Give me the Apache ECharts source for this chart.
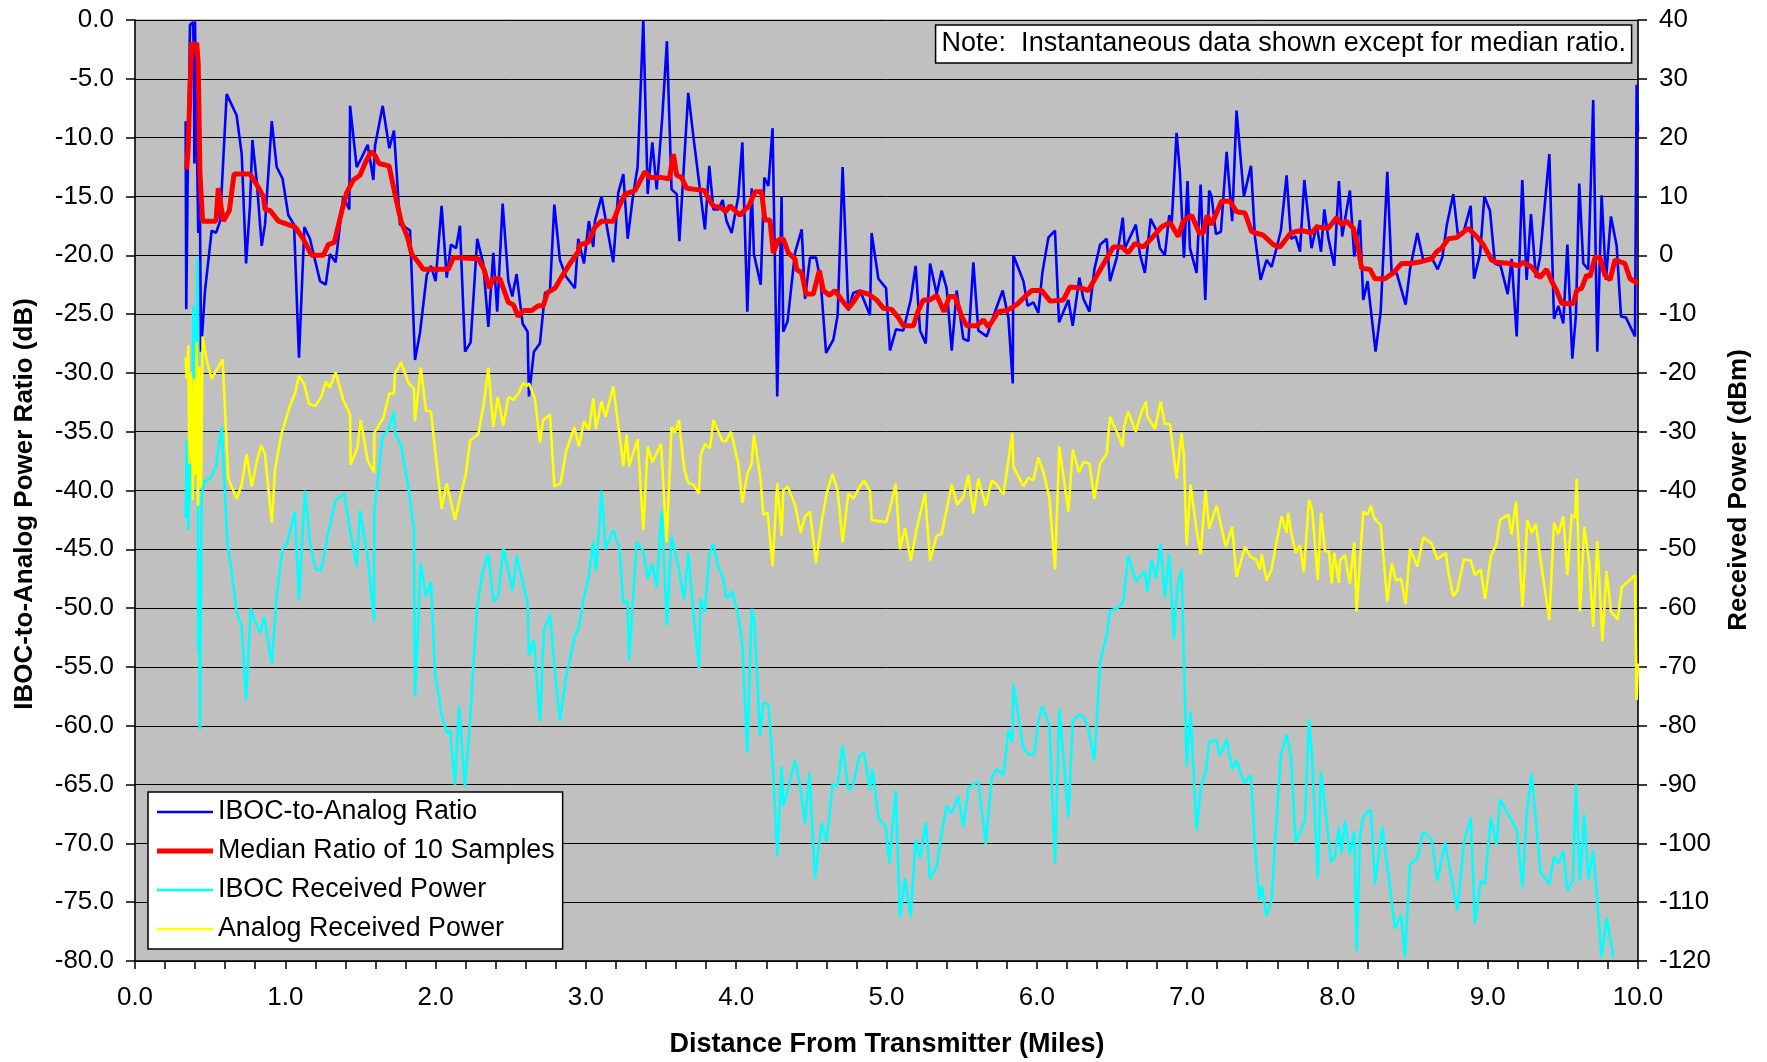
<!DOCTYPE html>
<html>
<head>
<meta charset="utf-8">
<script src="https://cdn.jsdelivr.net/npm/echarts@6/dist/echarts.min.js"></script>
<style>
  html, body { margin: 0; padding: 0; background: #ffffff; }
  #chart { width: 1767px; height: 1062px; }
</style>
</head>
<body>
<div id="chart"></div>
<script>
// Drive-test record: distance from transmitter (miles) vs. measured levels.

// IBOC-to-analog power ratio, instantaneous samples [miles, dB]
const ratioSamples = [
  [0.337,-8.6],[0.341,-24.6],[0.350,-14.0],[0.366,-0.4],[0.377,-0.3],[0.386,-0.2],[0.392,-3.0],[0.395,-12.2],[0.399,-0.1],[0.410,0.0],
  [0.421,-18.1],[0.426,-5.0],[0.439,-28.2],[0.466,-23.0],[0.510,-17.9],[0.539,-18.1],[0.566,-17.1],[0.610,-6.3],[0.676,-8.1],[0.710,-11.4],
  [0.739,-20.7],[0.765,-15.8],[0.781,-10.2],[0.810,-13.7],[0.843,-19.2],[0.865,-17.4],[0.910,-8.6],[0.943,-12.5],[0.982,-13.5],[1.020,-16.6],
  [1.058,-17.4],[1.091,-28.7],[1.127,-17.6],[1.164,-18.6],[1.231,-22.2],[1.269,-22.5],[1.297,-19.9],[1.335,-20.6],[1.386,-15.0],[1.426,-16.1],
  [1.431,-7.3],[1.475,-12.5],[1.508,-11.7],[1.548,-10.6],[1.586,-13.6],[1.597,-10.7],[1.648,-7.3],[1.692,-10.9],[1.723,-9.4],[1.763,-17.4],
  [1.797,-17.6],[1.830,-17.9],[1.863,-28.9],[1.896,-26.6],[1.941,-21.7],[1.969,-20.9],[2.000,-22.2],[2.040,-15.8],[2.074,-21.9],[2.102,-19.1],
  [2.136,-19.4],[2.162,-17.5],[2.196,-28.2],[2.233,-27.4],[2.277,-18.6],[2.317,-20.7],[2.351,-26.1],[2.384,-19.8],[2.410,-24.8],[2.446,-15.6],
  [2.484,-22.2],[2.510,-23.5],[2.539,-21.6],[2.579,-25.8],[2.612,-26.5],[2.621,-32.0],[2.654,-28.2],[2.694,-27.5],[2.728,-23.2],[2.761,-23.0],
  [2.790,-15.7],[2.827,-20.4],[2.867,-21.8],[2.927,-22.8],[2.949,-18.6],[2.987,-20.7],[3.020,-17.1],[3.049,-19.3],[3.060,-17.1],[3.104,-15.0],
  [3.182,-20.6],[3.215,-14.7],[3.249,-13.1],[3.278,-18.6],[3.315,-14.8],[3.344,-12.5],[3.382,0.0],[3.411,-14.8],[3.442,-10.4],[3.471,-14.4],
  [3.508,-8.3],[3.539,-1.8],[3.570,-14.4],[3.604,-14.8],[3.622,-18.8],[3.681,-6.2],[3.715,-9.9],[3.752,-13.7],[3.792,-17.8],[3.821,-12.4],
  [3.848,-16.1],[3.881,-16.1],[3.910,-15.3],[3.936,-17.1],[3.970,-18.1],[4.014,-15.0],[4.041,-10.4],[4.074,-24.8],[4.103,-14.3],[4.118,-19.9],
  [4.163,-22.5],[4.187,-13.4],[4.214,-14.1],[4.242,-9.2],[4.273,-32.0],[4.302,-15.0],[4.313,-26.5],[4.342,-25.6],[4.391,-19.8],[4.436,-17.8],
  [4.458,-23.7],[4.491,-20.2],[4.531,-20.2],[4.562,-22.2],[4.598,-28.3],[4.646,-27.2],[4.675,-25.1],[4.708,-12.5],[4.746,-24.7],[4.779,-23.2],
  [4.824,-23.0],[4.890,-25.1],[4.901,-18.1],[4.946,-22.0],[4.997,-22.8],[5.023,-28.1],[5.063,-26.3],[5.112,-26.4],[5.161,-23.8],[5.194,-20.9],
  [5.223,-26.4],[5.261,-27.5],[5.290,-20.7],[5.334,-23.3],[5.367,-21.3],[5.400,-22.8],[5.434,-28.1],[5.467,-23.0],[5.511,-27.1],[5.545,-27.3],
  [5.578,-20.6],[5.611,-26.4],[5.667,-26.9],[5.722,-24.8],[5.773,-23.0],[5.811,-25.3],[5.840,-30.9],[5.844,-20.0],[5.911,-22.2],[5.939,-24.3],
  [5.977,-24.0],[6.010,-24.9],[6.037,-21.5],[6.077,-18.5],[6.121,-17.9],[6.148,-25.7],[6.210,-23.8],[6.239,-26.0],[6.283,-21.9],[6.310,-23.7],
  [6.350,-24.8],[6.383,-21.2],[6.421,-19.1],[6.465,-18.6],[6.487,-22.2],[6.532,-20.2],[6.572,-16.8],[6.586,-19.4],[6.659,-17.4],[6.686,-19.9],
  [6.719,-21.5],[6.757,-16.9],[6.797,-17.9],[6.819,-19.4],[6.852,-20.0],[6.881,-16.6],[6.897,-17.4],[6.930,-9.6],[6.952,-12.9],[6.979,-20.2],
  [7.003,-13.7],[7.019,-19.4],[7.063,-21.5],[7.090,-14.0],[7.121,-23.8],[7.147,-14.5],[7.163,-15.0],[7.192,-18.2],[7.225,-18.0],[7.263,-11.2],
  [7.300,-17.1],[7.329,-7.7],[7.378,-15.0],[7.425,-12.4],[7.451,-18.4],[7.489,-22.1],[7.529,-20.4],[7.562,-21.0],[7.595,-19.4],[7.624,-17.9],
  [7.662,-13.2],[7.691,-18.6],[7.722,-18.4],[7.751,-19.7],[7.780,-13.6],[7.828,-19.4],[7.862,-17.4],[7.891,-19.7],[7.913,-16.1],[7.939,-18.5],
  [7.979,-20.9],[8.010,-13.7],[8.032,-18.4],[8.083,-14.5],[8.112,-20.1],[8.150,-17.0],[8.172,-23.8],[8.201,-22.2],[8.254,-28.2],[8.288,-24.8],
  [8.332,-12.9],[8.361,-21.6],[8.394,-21.5],[8.454,-24.2],[8.483,-21.2],[8.532,-18.1],[8.571,-20.4],[8.627,-20.2],[8.667,-21.2],[8.698,-20.2],
  [8.727,-17.5],[8.771,-14.8],[8.804,-18.5],[8.842,-17.9],[8.887,-15.8],[8.909,-22.0],[8.949,-19.9],[8.978,-15.0],[9.015,-16.2],[9.048,-20.7],
  [9.086,-20.9],[9.133,-23.3],[9.159,-20.3],[9.193,-26.9],[9.230,-13.6],[9.259,-22.1],[9.288,-16.5],[9.321,-21.9],[9.348,-20.2],[9.410,-11.4],
  [9.441,-25.4],[9.470,-24.3],[9.503,-25.8],[9.530,-19.1],[9.563,-28.8],[9.587,-25.1],[9.609,-13.9],[9.636,-20.7],[9.669,-21.2],[9.702,-6.8],
  [9.729,-28.2],[9.758,-14.9],[9.787,-22.1],[9.820,-16.7],[9.858,-19.2],[9.887,-25.2],[9.920,-25.3],[9.980,-26.9],[9.991,-5.5],[10.0,-9.5]
];

// Running median of 10 ratio samples [miles, dB]
const medianRatio = [
  [0.343,-12.7],[0.354,-10.9],[0.366,-5.8],[0.377,-1.9],[0.399,-2.7],[0.410,-1.9],[0.421,-3.7],[0.432,-13.0],[0.450,-17.1],[0.539,-17.1],
  [0.554,-14.3],[0.566,-14.3],[0.588,-17.1],[0.628,-16.2],[0.659,-13.1],[0.765,-13.1],[0.810,-14.0],[0.854,-15.0],[0.865,-16.1],[0.899,-16.2],
  [0.954,-17.1],[1.020,-17.4],[1.065,-17.6],[1.120,-18.6],[1.175,-20.0],[1.253,-20.0],[1.286,-19.1],[1.326,-18.9],[1.375,-16.3],[1.408,-14.7],
  [1.453,-13.6],[1.497,-13.2],[1.530,-12.2],[1.570,-11.2],[1.597,-11.5],[1.623,-12.2],[1.690,-12.4],[1.730,-14.8],[1.770,-17.1],[1.814,-18.5],
  [1.841,-19.9],[1.885,-20.6],[1.918,-21.2],[2.085,-21.2],[2.118,-20.2],[2.284,-20.3],[2.322,-21.2],[2.357,-22.8],[2.384,-22.0],[2.428,-22.0],
  [2.484,-24.0],[2.517,-24.2],[2.550,-25.2],[2.583,-24.7],[2.639,-24.7],[2.683,-24.3],[2.717,-24.3],[2.743,-23.2],[2.794,-22.8],[2.850,-21.6],
  [2.894,-20.7],[2.949,-19.7],[2.960,-19.1],[3.016,-18.9],[3.060,-17.6],[3.104,-17.1],[3.182,-17.1],[3.222,-15.8],[3.260,-14.8],[3.327,-14.5],
  [3.360,-13.7],[3.393,-12.9],[3.426,-13.4],[3.504,-13.4],[3.555,-13.5],[3.582,-11.4],[3.604,-13.2],[3.637,-13.4],[3.670,-14.3],[3.726,-14.4],
  [3.788,-14.5],[3.826,-15.4],[3.848,-15.8],[3.903,-16.0],[3.930,-16.3],[3.959,-15.8],[3.992,-16.2],[4.025,-16.6],[4.054,-16.2],[4.085,-15.8],
  [4.125,-14.6],[4.169,-14.6],[4.191,-17.0],[4.225,-17.0],[4.247,-19.8],[4.280,-18.7],[4.313,-18.6],[4.347,-19.8],[4.391,-20.3],[4.402,-21.2],
  [4.436,-21.5],[4.464,-23.3],[4.513,-23.3],[4.553,-21.3],[4.580,-23.0],[4.620,-23.4],[4.657,-23.0],[4.702,-23.8],[4.746,-24.5],[4.784,-23.9],
  [4.824,-23.1],[4.879,-23.3],[4.935,-23.8],[4.979,-24.5],[5.034,-24.6],[5.079,-25.3],[5.112,-26.0],[5.179,-26.0],[5.212,-24.7],[5.245,-23.8],
  [5.290,-23.8],[5.334,-23.4],[5.383,-24.8],[5.418,-23.5],[5.456,-23.5],[5.500,-25.2],[5.534,-26.0],[5.600,-26.0],[5.645,-25.5],[5.678,-26.1],
  [5.744,-24.8],[5.800,-24.7],[5.866,-24.2],[5.922,-23.5],[5.966,-23.0],[6.033,-23.0],[6.088,-23.9],[6.177,-23.8],[6.221,-22.7],[6.299,-22.8],
  [6.343,-23.0],[6.432,-21.0],[6.509,-19.3],[6.565,-19.3],[6.608,-19.8],[6.653,-19.0],[6.708,-19.3],[6.775,-18.4],[6.830,-17.6],[6.886,-17.2],
  [6.941,-18.4],[6.974,-17.1],[7.030,-16.6],[7.081,-18.1],[7.108,-18.1],[7.134,-16.6],[7.163,-17.4],[7.229,-15.4],[7.285,-15.4],[7.329,-16.3],
  [7.385,-16.4],[7.429,-18.0],[7.507,-18.3],[7.573,-19.1],[7.618,-19.3],[7.684,-18.2],[7.718,-18.0],[7.762,-17.9],[7.828,-18.1],[7.862,-17.6],
  [7.939,-17.7],[7.995,-16.8],[8.028,-17.4],[8.061,-17.1],[8.106,-17.7],[8.139,-19.4],[8.161,-21.1],[8.217,-21.2],[8.250,-22.0],[8.316,-22.0],
  [8.372,-21.5],[8.427,-20.7],[8.483,-20.7],[8.538,-20.6],[8.627,-20.3],[8.660,-19.7],[8.693,-19.4],[8.738,-18.6],[8.793,-18.5],[8.871,-17.7],
  [8.926,-18.4],[8.971,-19.1],[9.026,-20.4],[9.059,-20.6],[9.148,-20.7],[9.204,-20.9],[9.237,-20.6],[9.292,-21.0],[9.348,-21.9],[9.392,-21.2],
  [9.425,-22.2],[9.459,-23.0],[9.492,-24.1],[9.570,-24.1],[9.592,-23.0],[9.625,-22.8],[9.658,-21.7],[9.681,-21.8],[9.714,-20.2],[9.747,-20.2],
  [9.780,-21.7],[9.814,-22.1],[9.847,-20.4],[9.913,-20.7],[9.947,-22.0],[10.0,-22.4]
];

// IBOC received power [miles, dBm]
const ibocPower = [
  [0.337,-44.7],[0.344,-31.3],[0.355,-46.7],[0.366,-26.1],[0.377,-41.6],[0.388,-8.6],[0.399,-31.3],[0.406,-16.8],[0.415,-0.4],[0.421,-67.3],
  [0.426,-51.9],[0.432,-80.7],[0.443,-41.6],[0.459,-38.5],[0.499,-38.0],[0.539,-35.9],[0.577,-29.2],[0.614,-48.8],[0.643,-53.9],[0.676,-60.6],
  [0.710,-63.2],[0.739,-75.6],[0.770,-60.1],[0.799,-62.2],[0.832,-64.2],[0.859,-61.6],[0.910,-69.4],[0.943,-58.0],[0.982,-49.8],[1.009,-49.3],
  [1.064,-43.6],[1.091,-58.6],[1.131,-40.0],[1.164,-48.8],[1.202,-53.4],[1.238,-53.6],[1.286,-47.2],[1.335,-41.6],[1.393,-40.5],[1.431,-46.9],
  [1.475,-52.9],[1.497,-43.4],[1.548,-51.3],[1.590,-62.2],[1.592,-43.6],[1.619,-37.4],[1.646,-30.8],[1.686,-29.7],[1.723,-26.6],[1.730,-30.2],
  [1.770,-32.3],[1.819,-39.5],[1.856,-46.7],[1.863,-75.0],[1.901,-52.4],[1.936,-58.0],[1.969,-55.5],[1.996,-70.9],[2.040,-78.1],[2.074,-81.2],
  [2.096,-80.7],[2.129,-90.0],[2.156,-76.6],[2.195,-90.5],[2.229,-79.2],[2.255,-68.3],[2.277,-59.6],[2.317,-53.4],[2.351,-50.8],[2.384,-58.9],
  [2.417,-58.0],[2.450,-49.8],[2.484,-53.7],[2.512,-57.0],[2.539,-51.1],[2.579,-55.5],[2.612,-59.1],[2.621,-68.1],[2.654,-65.4],[2.694,-79.2],
  [2.721,-63.7],[2.761,-61.1],[2.794,-70.9],[2.827,-79.2],[2.867,-71.9],[2.927,-64.7],[2.954,-63.2],[2.987,-58.3],[3.020,-54.4],[3.049,-48.6],
  [3.067,-53.7],[3.104,-40.0],[3.131,-50.0],[3.182,-46.7],[3.222,-49.8],[3.249,-59.1],[3.278,-58.9],[3.287,-68.9],[3.338,-48.8],[3.382,-50.3],
  [3.411,-55.0],[3.442,-52.4],[3.471,-56.5],[3.504,-43.4],[3.539,-63.0],[3.570,-47.7],[3.615,-52.9],[3.653,-58.6],[3.681,-50.6],[3.715,-60.6],
  [3.752,-70.2],[3.763,-58.4],[3.792,-60.6],[3.821,-50.8],[3.848,-49.1],[3.881,-52.9],[3.914,-55.0],[3.936,-58.3],[3.974,-57.2],[4.014,-61.4],
  [4.041,-66.3],[4.074,-84.6],[4.103,-60.1],[4.121,-62.2],[4.158,-81.7],[4.180,-76.1],[4.214,-76.3],[4.242,-85.9],[4.273,-102.1],[4.302,-86.9],
  [4.313,-93.6],[4.347,-90.5],[4.391,-85.9],[4.425,-90.2],[4.458,-96.7],[4.487,-87.9],[4.524,-106.0],[4.569,-96.5],[4.602,-99.8],[4.640,-90.0],
  [4.675,-90.2],[4.708,-83.3],[4.746,-91.0],[4.779,-90.0],[4.817,-85.3],[4.850,-84.6],[4.890,-90.8],[4.906,-87.4],[4.946,-95.6],[4.994,-97.2],
  [5.019,-103.4],[5.061,-91.0],[5.090,-112.6],[5.123,-105.9],[5.161,-112.4],[5.194,-99.4],[5.223,-102.5],[5.261,-96.4],[5.290,-106.0],[5.334,-103.9],
  [5.367,-98.3],[5.400,-93.6],[5.434,-94.9],[5.478,-92.0],[5.511,-97.2],[5.545,-90.5],[5.611,-89.5],[5.660,-100.1],[5.700,-88.8],[5.733,-87.4],
  [5.778,-88.4],[5.811,-80.7],[5.837,-82.8],[5.844,-73.0],[5.911,-83.8],[5.944,-84.8],[5.982,-85.0],[6.010,-79.2],[6.037,-76.6],[6.084,-79.9],
  [6.121,-103.4],[6.150,-77.1],[6.210,-95.6],[6.239,-79.2],[6.281,-78.1],[6.310,-78.4],[6.343,-80.5],[6.383,-85.9],[6.421,-69.2],[6.465,-64.7],
  [6.487,-60.4],[6.532,-60.1],[6.565,-59.3],[6.575,-58.9],[6.608,-51.1],[6.659,-55.5],[6.719,-53.7],[6.735,-57.2],[6.764,-51.9],[6.793,-55.0],
  [6.824,-49.1],[6.852,-58.3],[6.881,-50.8],[6.912,-65.3],[6.934,-56.5],[6.963,-53.4],[6.997,-86.9],[7.023,-77.6],[7.063,-97.7],[7.090,-90.5],
  [7.123,-87.9],[7.147,-82.8],[7.192,-82.3],[7.218,-85.0],[7.263,-82.3],[7.300,-87.4],[7.329,-85.9],[7.380,-89.8],[7.425,-88.4],[7.451,-100.3],
  [7.480,-109.7],[7.496,-107.2],[7.529,-112.4],[7.562,-109.7],[7.584,-100.1],[7.624,-85.0],[7.662,-81.5],[7.691,-85.3],[7.722,-99.8],[7.784,-96.1],
  [7.811,-78.9],[7.833,-85.9],[7.869,-105.9],[7.891,-87.7],[7.939,-98.8],[7.957,-103.2],[7.984,-102.3],[8.010,-97.2],[8.028,-101.8],[8.050,-96.1],
  [8.083,-101.8],[8.112,-98.0],[8.128,-118.3],[8.150,-98.8],[8.172,-95.6],[8.201,-94.6],[8.223,-94.3],[8.250,-106.9],[8.299,-97.2],[8.334,-104.4],
  [8.383,-114.5],[8.423,-112.1],[8.449,-119.4],[8.483,-103.6],[8.532,-102.5],[8.571,-98.0],[8.627,-99.4],[8.665,-106.4],[8.716,-99.8],[8.771,-107.5],
  [8.798,-111.4],[8.842,-99.8],[8.887,-95.6],[8.915,-113.7],[8.953,-106.4],[8.982,-106.9],[9.020,-95.6],[9.059,-100.3],[9.082,-92.5],[9.193,-97.7],
  [9.232,-107.5],[9.259,-95.1],[9.292,-88.1],[9.352,-104.9],[9.410,-106.9],[9.441,-102.3],[9.470,-103.4],[9.503,-101.3],[9.530,-108.0],[9.566,-106.4],
  [9.587,-90.0],[9.614,-106.4],[9.643,-95.1],[9.669,-106.2],[9.702,-101.1],[9.758,-119.4],[9.791,-112.6],[9.836,-119.4]
];

// Analog received power [miles, dBm]
const analogPower = [
  [0.337,-17.4],[0.344,-21.0],[0.355,-15.3],[0.361,-35.4],[0.372,-19.9],[0.384,-41.6],[0.392,-21.0],[0.401,-37.4],[0.410,-14.8],[0.419,-42.6],
  [0.428,-18.9],[0.439,-39.5],[0.450,-13.8],[0.477,-17.9],[0.510,-21.0],[0.583,-17.7],[0.621,-38.0],[0.676,-41.4],[0.710,-39.0],[0.743,-33.8],
  [0.776,-39.3],[0.810,-35.1],[0.839,-32.3],[0.865,-33.8],[0.910,-45.5],[0.932,-36.4],[0.976,-30.2],[1.031,-25.6],[1.065,-23.5],[1.091,-20.5],
  [1.127,-22.0],[1.158,-25.3],[1.202,-25.6],[1.238,-24.1],[1.271,-21.5],[1.297,-22.5],[1.335,-19.9],[1.386,-24.6],[1.431,-27.1],[1.435,-35.6],
  [1.479,-32.8],[1.502,-28.0],[1.548,-34.9],[1.590,-36.9],[1.592,-30.2],[1.652,-27.7],[1.692,-23.5],[1.723,-23.5],[1.730,-20.1],[1.770,-18.2],
  [1.819,-21.7],[1.856,-22.7],[1.863,-28.2],[1.901,-19.1],[1.936,-26.4],[1.969,-26.6],[2.040,-43.1],[2.074,-38.8],[2.129,-45.0],[2.169,-40.5],
  [2.202,-37.2],[2.229,-31.5],[2.284,-30.4],[2.322,-25.1],[2.351,-19.1],[2.384,-29.2],[2.413,-24.1],[2.450,-29.0],[2.484,-24.1],[2.517,-24.6],
  [2.550,-23.5],[2.583,-21.7],[2.606,-22.2],[2.621,-21.8],[2.661,-24.4],[2.694,-31.8],[2.716,-28.0],[2.761,-27.1],[2.790,-39.3],[2.832,-38.8],
  [2.867,-33.5],[2.923,-29.2],[2.954,-32.5],[2.987,-28.2],[3.020,-29.7],[3.049,-24.3],[3.067,-29.5],[3.104,-24.9],[3.131,-27.5],[3.182,-22.3],
  [3.222,-30.2],[3.249,-35.9],[3.271,-30.5],[3.287,-35.9],[3.344,-31.3],[3.382,-46.7],[3.411,-32.5],[3.442,-35.2],[3.500,-32.1],[3.537,-48.8],
  [3.570,-29.2],[3.593,-30.2],[3.619,-28.0],[3.653,-36.2],[3.681,-38.7],[3.715,-39.0],[3.752,-40.5],[3.763,-34.0],[3.792,-32.1],[3.826,-32.8],
  [3.848,-28.0],[3.908,-31.6],[3.932,-31.6],[3.965,-30.0],[4.014,-35.4],[4.041,-42.1],[4.074,-37.2],[4.103,-35.4],[4.118,-30.5],[4.163,-38.3],
  [4.180,-44.1],[4.209,-43.8],[4.242,-52.9],[4.273,-38.8],[4.302,-47.7],[4.313,-40.0],[4.342,-39.3],[4.391,-42.4],[4.429,-47.2],[4.458,-44.4],
  [4.491,-43.6],[4.531,-52.4],[4.569,-45.2],[4.602,-40.5],[4.640,-37.2],[4.675,-40.0],[4.708,-48.8],[4.746,-40.5],[4.779,-41.4],[4.824,-39.3],
  [4.850,-38.3],[4.890,-40.0],[4.901,-45.0],[4.997,-45.4],[5.023,-43.1],[5.061,-38.8],[5.090,-50.0],[5.123,-46.4],[5.161,-51.9],[5.201,-46.5],
  [5.256,-40.5],[5.290,-51.9],[5.334,-47.7],[5.367,-47.4],[5.434,-39.0],[5.471,-42.4],[5.511,-41.1],[5.545,-37.4],[5.578,-43.9],[5.611,-38.0],
  [5.660,-42.6],[5.700,-38.3],[5.733,-39.0],[5.778,-40.7],[5.837,-30.2],[5.844,-35.9],[5.911,-39.3],[5.944,-37.8],[5.977,-38.3],[6.010,-34.4],
  [6.044,-36.9],[6.084,-41.3],[6.121,-53.4],[6.150,-32.5],[6.210,-43.6],[6.239,-33.1],[6.281,-36.9],[6.310,-35.2],[6.350,-35.4],[6.383,-41.4],
  [6.421,-35.4],[6.465,-33.8],[6.487,-27.5],[6.532,-30.0],[6.572,-32.5],[6.580,-29.2],[6.608,-26.6],[6.659,-30.0],[6.697,-26.6],[6.726,-24.9],
  [6.735,-27.4],[6.786,-29.5],[6.824,-24.9],[6.852,-28.7],[6.886,-28.7],[6.930,-38.0],[6.963,-30.2],[6.979,-34.2],[6.997,-49.3],[7.023,-39.0],
  [7.063,-46.7],[7.090,-50.8],[7.123,-40.0],[7.147,-46.5],[7.196,-42.6],[7.258,-49.6],[7.300,-46.2],[7.329,-54.7],[7.385,-49.6],[7.422,-51.3],
  [7.458,-51.7],[7.485,-53.4],[7.496,-50.8],[7.529,-55.3],[7.562,-53.4],[7.591,-49.3],[7.629,-44.4],[7.662,-47.2],[7.673,-43.8],[7.695,-47.5],
  [7.722,-50.6],[7.751,-49.3],[7.777,-53.9],[7.811,-41.6],[7.833,-43.4],[7.869,-55.2],[7.891,-43.8],[7.917,-50.3],[7.944,-50.3],[7.962,-55.8],
  [7.979,-50.6],[8.010,-55.7],[8.017,-51.9],[8.050,-51.0],[8.083,-55.8],[8.112,-48.8],[8.128,-60.6],[8.172,-43.6],[8.201,-44.1],[8.223,-42.6],
  [8.245,-44.7],[8.288,-45.9],[8.332,-58.9],[8.361,-52.4],[8.390,-55.3],[8.423,-55.0],[8.454,-59.3],[8.483,-50.0],[8.532,-52.9],[8.571,-48.0],
  [8.627,-49.0],[8.665,-51.7],[8.722,-50.6],[8.738,-53.9],[8.771,-58.0],[8.798,-57.0],[8.842,-51.7],[8.887,-51.9],[8.915,-54.4],[8.953,-53.4],
  [8.982,-58.4],[9.020,-51.3],[9.059,-49.0],[9.082,-45.0],[9.137,-44.1],[9.159,-47.5],[9.188,-41.9],[9.232,-59.8],[9.264,-45.0],[9.292,-47.2],
  [9.321,-45.7],[9.352,-51.9],[9.410,-62.0],[9.441,-45.5],[9.470,-47.4],[9.503,-44.4],[9.530,-54.4],[9.559,-44.1],[9.581,-44.7],[9.592,-38.0],
  [9.614,-60.6],[9.643,-46.2],[9.676,-52.4],[9.702,-63.2],[9.729,-48.6],[9.763,-65.6],[9.791,-53.7],[9.820,-60.6],[9.865,-61.9],[9.891,-56.5],
  [9.980,-54.4],[9.991,-75.6],[10.0,-69.4]
];

const seriesNames = ['IBOC-to-Analog Ratio', 'Median Ratio of 10 Samples', 'IBOC Received Power', 'Analog Received Power'];
const seriesColors = ['#0000ff', '#ff0000', '#00ffff', '#ffff00'];
const seriesWidths = [2.6, 5, 2.6, 2.6];
const noteText = 'Note:  Instantaneous data shown except for median ratio.';
const xTitle = 'Distance From Transmitter (Miles)';
const yLeftTitle = 'IBOC-to-Analog Power Ratio (dB)';
const yRightTitle = 'Received Power (dBm)';

const FONT = '"Liberation Sans", Arial, Helvetica, sans-serif';
const labelStyle = { color: '#000', fontSize: 26, fontFamily: FONT };

// legend keys are plain strokes as wide as each series line
const legendKey = w => 'path://M0,0H56V' + w + 'H0Z';

const chart = echarts.init(document.getElementById('chart'), null, { renderer: 'canvas' });

chart.setOption({
  animation: false,
  backgroundColor: '#ffffff',
  grid: {
    left: 135, right: 129, top: 20, bottom: 101,
    show: true, backgroundColor: '#c0c0c0', borderColor: '#808080', borderWidth: 1,
    containLabel: false, outerBoundsMode: 'none'
  },
  title: {
    text: noteText,
    right: 135, top: 25,
    padding: [4, 6, 4, 6],
    backgroundColor: '#ffffff', borderColor: '#000', borderWidth: 1.5,
    textStyle: { fontWeight: 'normal', fontSize: 27, fontFamily: FONT, color: '#000', lineHeight: 30 }
  },
  legend: {
    data: seriesNames.map((n, i) => ({ name: n, icon: legendKey(seriesWidths[i]) })),
    orient: 'vertical',
    left: 148, top: 792,
    itemWidth: 56, itemHeight: 14, itemGap: 9,
    symbolKeepAspect: true,
    padding: [5, 8, 5, 9],
    backgroundColor: '#ffffff', borderColor: '#000', borderWidth: 1.5, borderRadius: 0,
    selectedMode: false,
    textStyle: { fontSize: 26.8, fontFamily: FONT, color: '#000', lineHeight: 30 }
  },
  xAxis: {
    type: 'value', min: 0, max: 10, interval: 1,
    axisLine: { show: true, onZero: false, lineStyle: { color: '#000', width: 1.5 } },
    axisTick: { show: true, length: 8, lineStyle: { color: '#000', width: 1.5 } },
    minorTick: { show: true, splitNumber: 5, length: 8, lineStyle: { color: '#000', width: 1.5 } },
    splitLine: { show: false },
    axisLabel: Object.assign({ margin: 24, formatter: v => v.toFixed(1) }, labelStyle)
  },
  yAxis: [
    {
      type: 'value', position: 'left', min: -80, max: 0, interval: 5,
      axisLine: { show: true, onZero: false, lineStyle: { color: '#000', width: 1.5 } },
      axisTick: { show: true, length: 9, lineStyle: { color: '#000', width: 1.5 } },
      splitLine: { show: true, lineStyle: { color: '#000', width: 1 } },
      axisLabel: Object.assign({ margin: 21, formatter: v => v.toFixed(1) }, labelStyle)
    },
    {
      type: 'value', position: 'right', min: -120, max: 40, interval: 10,
      axisLine: { show: true, onZero: false, lineStyle: { color: '#000', width: 1.5 } },
      axisTick: { show: true, length: 9, lineStyle: { color: '#000', width: 1.5 } },
      splitLine: { show: false },
      axisLabel: Object.assign({ margin: 21, formatter: v => String(v) }, labelStyle)
    }
  ],
  graphic: [
    { type: 'text', x: 25, y: 504, rotation: Math.PI / 2,
      style: { text: yLeftTitle, font: 'bold 26px ' + FONT, fill: '#000', align: 'center', verticalAlign: 'middle' } },
    { type: 'text', x: 1739, y: 490, rotation: Math.PI / 2,
      style: { text: yRightTitle, font: 'bold 26px ' + FONT, fill: '#000', align: 'center', verticalAlign: 'middle' } },
    { type: 'text', x: 887, y: 1045,
      style: { text: xTitle, font: 'bold 27px ' + FONT, fill: '#000', align: 'center', verticalAlign: 'middle' } }
  ],
  series: [ratioSamples, medianRatio, ibocPower, analogPower].map((pts, i) => ({
    name: seriesNames[i],
    type: 'line',
    yAxisIndex: i < 2 ? 0 : 1,
    data: pts,
    symbol: 'none',
    showSymbol: false,
    lineStyle: { color: seriesColors[i], width: seriesWidths[i] },
    itemStyle: { color: seriesColors[i] }
  }))
});
</script>
</body>
</html>
